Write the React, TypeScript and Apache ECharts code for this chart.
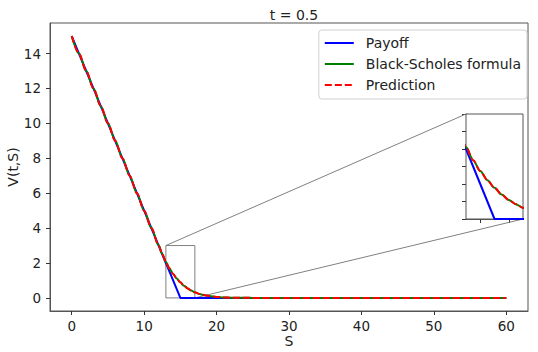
import React, { useEffect, useRef } from "react";
import * as echarts from "echarts";

// Asset price grid
const S = [0, 1, 2, 3, 4, 5, 6, 7, 8, 9, 10, 11, 12, 12.5, 13, 13.5, 14, 14.5, 15, 15.5, 16, 16.5, 17, 17.5, 18, 18.5, 19, 19.5, 20, 21, 22, 23, 24, 25, 26, 30, 35, 40, 45, 50, 55, 60];
const payoff = [15, 14, 13, 12, 11, 10, 9, 8, 7, 6, 5, 4, 3, 2.5, 2, 1.5, 1, 0.5, 0, 0, 0, 0, 0, 0, 0, 0, 0, 0, 0, 0, 0, 0, 0, 0, 0, 0, 0, 0, 0, 0, 0, 0];
const blackScholes = [15, 14, 13, 12, 11, 10, 9, 8, 7, 6, 5, 4, 3.01, 2.51, 2.06, 1.68, 1.37, 1.11, 0.89, 0.7, 0.545, 0.42, 0.32, 0.245, 0.185, 0.14, 0.105, 0.078, 0.058, 0.03, 0.015, 0.007, 0.003, 0.001, 0, 0, 0, 0, 0, 0, 0, 0];
const prediction = [15, 14, 13, 12, 11, 10, 9, 8, 7, 6, 5, 4, 3.01, 2.51, 2.06, 1.68, 1.37, 1.11, 0.89, 0.7, 0.545, 0.42, 0.32, 0.245, 0.185, 0.14, 0.105, 0.078, 0.058, 0.03, 0.015, 0.007, 0.003, 0.001, 0, 0, 0, 0, 0, 0, 0, 0];

const xTicks = [0, 10, 20, 30, 40, 50, 60];
const yTicks = [0, 2, 4, 6, 8, 10, 12, 14];
const insetX = [13, 17];
const insetY = [0, 3];
const insetXTicks = [14, 16];

const FONT = "DejaVu Sans";

export default function App() {
  const ref = useRef<HTMLDivElement>(null);
  useEffect(() => {
    document.body.style.margin = "0";
    const chart = echarts.init(ref.current!, undefined, { renderer: "svg" });
    const pair = (ys: number[]) => S.map((s, i) => [s, ys[i]]);
    const axisColor = "#555";
    const seriesDefs = [
      { name: "Payoff", data: payoff, color: "#0000ff", type: "solid", smooth: false },
      { name: "Black-Scholes formula", data: blackScholes, color: "#008000", type: "solid", smooth: true },
      { name: "Prediction", data: prediction, color: "#ff0000", type: [7, 3], smooth: true },
    ];
    const series: any[] = [];
    [0, 1].forEach((g) => {
      seriesDefs.forEach((d, k) => {
        const s: any = {
          name: d.name,
          type: "line",
          xAxisIndex: g,
          yAxisIndex: g,
          data: pair(d.data),
          symbol: "none",
          smooth: d.smooth ? 0.3 : false,
          smoothMonotone: "x",
          clip: true,
          z: g === 0 ? 3 + k : 12 + k,
          lineStyle: { color: d.color, width: 2, type: d.type },
          itemStyle: { color: d.color },
        };
        if (g === 0 && k === 0) {
          s.markArea = {
            silent: true,
            itemStyle: { color: "rgba(0,0,0,0)", borderColor: "#808080", borderWidth: 1 },
            data: [[{ coord: [insetX[0], insetY[1]] }, { coord: [insetX[1], insetY[0]] }]],
          };
        }
        series.push(s);
      });
    });

    const tickFont = 13.5;
    chart.setOption({
      animation: false,
      textStyle: { fontFamily: FONT },
      title: {
        text: "t = 0.5",
        left: 289,
        textAlign: "center",
        top: 3,
        textStyle: { fontFamily: FONT, fontSize: 14, fontWeight: "normal", color: "#222" },
      },
      legend: {
        orient: "vertical",
        right: 11,
        top: 30,
        itemWidth: 29,
        itemHeight: 14,
        itemGap: 7,
        padding: [6, 6, 7, 5],
        borderColor: "#d0d0d0",
        borderWidth: 1,
        borderRadius: 3,
        backgroundColor: "rgba(255,255,255,0.85)",
        itemStyle: { opacity: 0 },
        textStyle: { fontFamily: FONT, fontSize: 14, color: "#222", padding: [0, 0, 0, 7] },
        data: seriesDefs.map((d) => d.name),
        z: 10,
      },
      grid: [
        { left: 50, top: 23, width: 478, height: 288, show: true, borderColor: axisColor, borderWidth: 1, backgroundColor: "#fff", z: 0, containLabel: false, outerBoundsMode: "none" },
        { left: 466, top: 114, width: 57, height: 105, show: true, borderColor: axisColor, borderWidth: 1, backgroundColor: "#fff", z: 8, containLabel: false, outerBoundsMode: "none" },
      ],
      xAxis: [
        {
          type: "value",
          gridIndex: 0,
          min: -3,
          max: 63,
          name: "S",
          nameLocation: "middle",
          nameGap: 23,
          nameMoveOverlap: false,
          nameTextStyle: { fontFamily: FONT, fontSize: 14, color: "#222" },
          axisLine: { show: true, onZero: false, lineStyle: { color: axisColor } },
          axisTick: { show: true, customValues: xTicks, length: 4, lineStyle: { color: "#333" } },
          axisLabel: { customValues: xTicks, fontFamily: FONT, fontSize: tickFont, color: "#222", margin: 8 },
          splitLine: { show: false },
        },
        {
          type: "value",
          gridIndex: 1,
          min: insetX[0],
          max: insetX[1],
          axisLine: { show: true, onZero: false, lineStyle: { color: axisColor } },
          axisTick: { show: true, customValues: insetXTicks, length: 4, lineStyle: { color: "#333" } },
          axisLabel: { show: false },
          splitLine: { show: false },
        },
      ],
      yAxis: [
        {
          type: "value",
          gridIndex: 0,
          min: -0.75,
          max: 15.75,
          name: "V(t,S)",
          nameLocation: "middle",
          nameGap: 30,
          nameMoveOverlap: false,
          nameTextStyle: { fontFamily: FONT, fontSize: 14, color: "#222" },
          axisLine: { show: true, onZero: false, lineStyle: { color: axisColor } },
          axisTick: { show: true, customValues: yTicks, length: 4, lineStyle: { color: "#333" } },
          axisLabel: { customValues: yTicks, fontFamily: FONT, fontSize: tickFont, color: "#222", margin: 9 },
          splitLine: { show: false },
        },
        {
          type: "value",
          gridIndex: 1,
          min: insetY[0],
          max: insetY[1],
          interval: 0.5,
          axisLine: { show: true, onZero: false, lineStyle: { color: axisColor } },
          axisTick: { show: true, length: 4, lineStyle: { color: "#333" } },
          axisLabel: { show: false },
          splitLine: { show: false },
        },
      ],
      series,
    });

    const a = chart.convertToPixel({ xAxisIndex: 0, yAxisIndex: 0 }, [insetX[0], insetY[1]]) as number[];
    const b = chart.convertToPixel({ xAxisIndex: 1, yAxisIndex: 1 }, [insetX[0], insetY[1]]) as number[];
    const c = chart.convertToPixel({ xAxisIndex: 0, yAxisIndex: 0 }, [insetX[1], insetY[0]]) as number[];
    const d = chart.convertToPixel({ xAxisIndex: 1, yAxisIndex: 1 }, [insetX[1], insetY[0]]) as number[];
    chart.setOption({
      graphic: [
        { type: "line", z: 1, silent: true, shape: { x1: a[0], y1: a[1], x2: b[0], y2: b[1] }, style: { stroke: "#808080", lineWidth: 1 } },
        { type: "line", z: 1, silent: true, shape: { x1: c[0], y1: c[1], x2: d[0], y2: d[1] }, style: { stroke: "#808080", lineWidth: 1 } },
      ],
    });

    return () => chart.dispose();
  }, []);
  return <div ref={ref} style={{ width: 538, height: 352 }} />;
}
